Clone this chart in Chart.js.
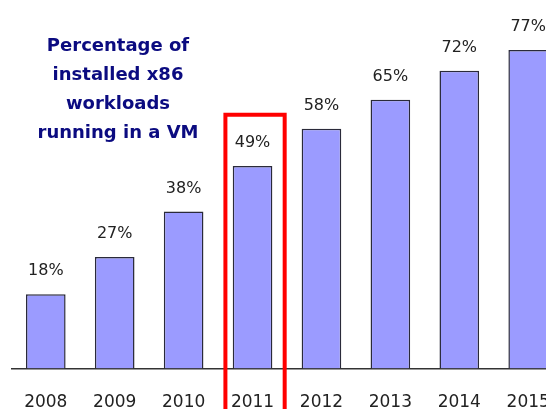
<!DOCTYPE html>
<html>
<head>
<meta charset="utf-8">
<script src="https://cdn.jsdelivr.net/npm/chart.js@4.4.1/dist/chart.umd.min.js"></script>
<style>
  html, body { margin: 0; padding: 0; background: #fff; overflow: hidden; width: 546px; height: 409px; }
  #wrap { position: absolute; left: 0; top: 0; width: 574px; height: 437px; }
  #title { position: absolute; left: 18px; top: 30px; width: 200px; text-align: center;
           font: bold 18px "DejaVu Sans", sans-serif; line-height: 29px; color: #0b0b80; }
</style>
</head>
<body>
<div id="wrap"><canvas id="c" width="574" height="437"></canvas></div>
<div id="title">Percentage of<br>installed x86<br>workloads<br>running in a VM</div>
<script>
const categories = ['2008', '2009', '2010', '2011', '2012', '2013', '2014', '2015'];
const values = [18, 27, 38, 49, 58, 65, 72, 77];
const valueLabels = ['18%', '27%', '38%', '49%', '58%', '65%', '72%', '77%'];
const highlighted = ['2011'];

const valueLabelPlugin = {
  id: 'valueLabels',
  afterDatasetsDraw(chart) {
    const ctx = chart.ctx;
    const meta = chart.getDatasetMeta(0);
    ctx.save();
    ctx.font = '16px "DejaVu Sans", sans-serif';
    ctx.fillStyle = '#222';
    ctx.textAlign = 'center';
    ctx.textBaseline = 'middle';
    meta.data.forEach((bar, i) => {
      ctx.fillText(valueLabels[i], bar.x, bar.y - 23);
    });
    ctx.restore();
  }
};

const highlightPlugin = {
  id: 'highlightBox',
  afterDraw(chart) {
    const ctx = chart.ctx;
    const xs = chart.scales.x, ys = chart.scales.y;
    const step = xs.width / categories.length;
    ctx.save();
    ctx.strokeStyle = '#ff0000';
    ctx.lineWidth = 4;
    highlighted.forEach(cat => {
      const idx = categories.indexOf(cat);
      const cx = xs.getPixelForValue(idx) + 2.5;
      const half = step * 0.43;
      const top = ys.getPixelForValue(61.4);
      ctx.beginPath();
      ctx.moveTo(cx - half, chart.height + 10);
      ctx.lineTo(cx - half, top);
      ctx.lineTo(cx + half, top);
      ctx.lineTo(cx + half, chart.height + 10);
      ctx.stroke();
    });
    ctx.restore();
  }
};

new Chart(document.getElementById('c'), {
  type: 'bar',
  data: {
    labels: categories,
    datasets: [{
      data: values,
      backgroundColor: '#9b9bff',
      borderColor: '#2a2a3a',
      borderWidth: 1.5,
      borderSkipped: 'bottom',
      barPercentage: 0.575,
      categoryPercentage: 1.0
    }]
  },
  options: {
    responsive: false,
    animation: false,
    layout: { padding: { left: 6, right: 8, top: 10, bottom: 0 } },
    plugins: { legend: { display: false }, tooltip: { enabled: false }, title: { display: false } },
    scales: {
      x: {
        grid: { display: false, drawTicks: false },
        border: { display: true, color: '#333', width: 1.5 },
        ticks: { color: '#222', font: { family: 'DejaVu Sans', size: 17 }, padding: 24, maxRotation: 0 }
      },
      y: {
        display: false,
        min: 0,
        max: 86.7
      }
    }
  },
  plugins: [valueLabelPlugin, highlightPlugin]
});
</script>
</body>
</html>
